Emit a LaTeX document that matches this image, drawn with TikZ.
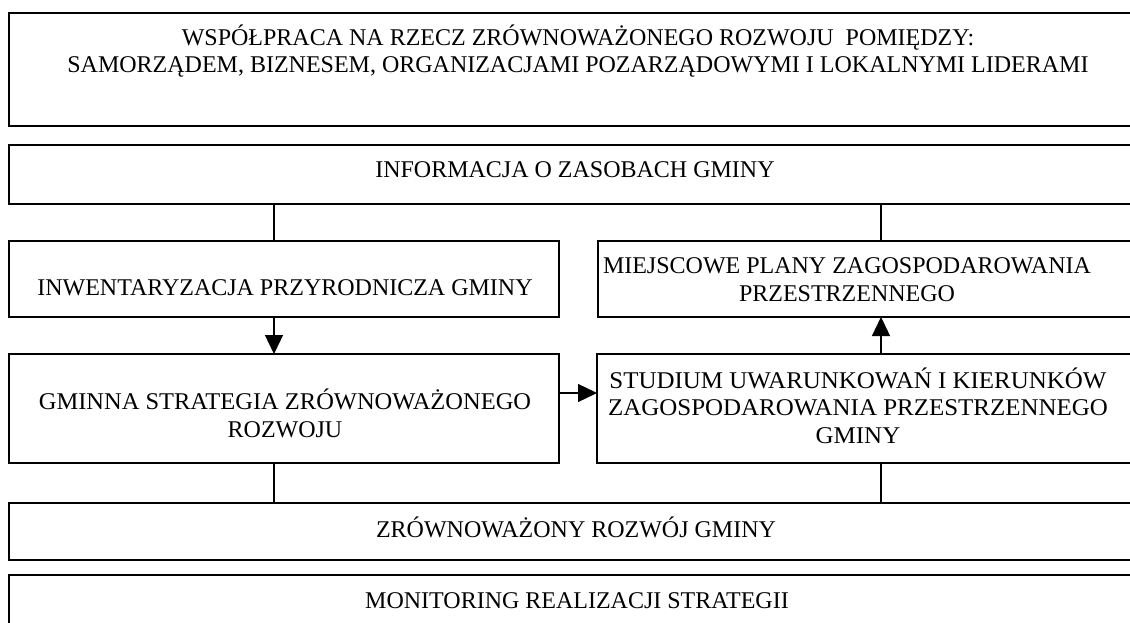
\documentclass[tikz,border=0pt]{standalone}
\usepackage{fontspec}
\setmainfont{Liberation Serif}
\usetikzlibrary{arrows.meta}
\begin{document}
\begin{tikzpicture}[x=1pt,y=-1pt,
  box/.style={draw, line width=1.3pt, anchor=north west, inner sep=0pt, outer sep=0pt},
  txt/.style={anchor=base, inner sep=0pt, font=\fontsize{24}{27.5}\selectfont, align=center},
  conn/.style={line width=1.3pt},
  arr/.style={line width=1.3pt, -{Triangle[length=19pt,width=18pt]}}]
\useasboundingbox (0,0) rectangle (1130,623);
\clip (0,0) rectangle (1130,623);
% boxes
\node[box, minimum width=1141pt, minimum height=113pt] (top) at (9,13) {};
\node[box, minimum width=1141pt, minimum height=59pt] (info) at (9,145) {};
\node[box, minimum width=550pt, minimum height=76pt] (inw) at (9,241) {};
\node[box, minimum width=552pt, minimum height=76pt] (miej) at (598,241) {};
\node[box, minimum width=550pt, minimum height=109pt] (gminna) at (9,354) {};
\node[box, minimum width=553pt, minimum height=109pt] (studium) at (597,354) {};
\node[box, minimum width=1141pt, minimum height=57pt] (zrown) at (9,503) {};
\node[box, minimum width=1141pt, minimum height=80pt] (monit) at (9,575) {};
% texts
\node[txt] (t1) at (578,73) {WSPÓŁPRACA NA RZECZ ZRÓWNOWAŻONEGO ROZWOJU\ \ POMIĘDZY:\\SAMORZĄDEM, BIZNESEM, ORGANIZACJAMI POZARZĄDOWYMI I LOKALNYMI LIDERAMI};
\node[txt] (t2) at (575,178) {INFORMACJA O ZASOBACH GMINY};
\node[txt] (t3) at (285,295) {INWENTARYZACJA PRZYRODNICZA GMINY};
\node[txt] (t4) at (847,301) {MIEJSCOWE PLANY ZAGOSPODAROWANIA\\PRZESTRZENNEGO};
\node[txt] (t5) at (285,437) {\scalebox{1.02}[1]{GMINNA STRATEGIA ZRÓWNOWAŻONEGO}\\ROZWOJU};
\node[txt] (t6) at (858,443) {\scalebox{1.04}[1]{\begin{tabular}[b]{@{}c@{}}STUDIUM UWARUNKOWAŃ I KIERUNKÓW\\ZAGOSPODAROWANIA PRZESTRZENNEGO\\GMINY\end{tabular}}};
\node[txt] (t7) at (576,537) {ZRÓWNOWAŻONY ROZWÓJ GMINY};
\node[txt] (t8) at (577,608) {MONITORING REALIZACJI STRATEGII};
% helper coordinates
\coordinate (cL) at (274,0);
\coordinate (cR) at (881,0);
\coordinate (cM) at (0,393);
% connectors
\draw[conn] (info.south -| cL) -- (inw.north -| cL);
\draw[conn] (info.south -| cR) -- (miej.north -| cR);
\draw[arr] (inw.south -| cL) -- (gminna.north -| cL);
\draw[arr] (studium.north -| cR) -- (miej.south -| cR);
\draw[arr] (gminna.east |- cM) -- (studium.west |- cM);
\draw[conn] (gminna.south -| cL) -- (zrown.north -| cL);
\draw[conn] (studium.south -| cR) -- (zrown.north -| cR);
\end{tikzpicture}
\end{document}
